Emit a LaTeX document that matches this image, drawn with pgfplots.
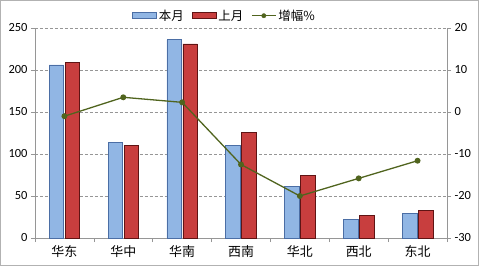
\documentclass[border=0pt]{standalone}
\usepackage{pgfplots}
\pgfplotsset{compat=1.18}
\usepackage{fontspec}
\setmainfont{Carlito}
\newfontfamily\cjk{Noto Sans CJK SC}
\definecolor{bluebar}{RGB}{145,182,228}
\definecolor{bluedark}{RGB}{75,110,165}
\definecolor{redbar}{RGB}{200,62,62}
\definecolor{reddark}{RGB}{95,20,20}
\definecolor{linegreen}{RGB}{80,100,30}
\definecolor{gridgray}{RGB}{150,150,150}
\begin{document}
\begin{tikzpicture}
\pgfplotsset{
  every axis/.append style={font=\fontsize{12.5}{14}\selectfont},
}
\begin{axis}[
  name=ax,
  scale only axis, width=412bp, height=210bp,
  xmin=-0.5, xmax=6.5, ymin=0, ymax=250,
  ytick={0,50,100,150,200,250},
  xtick={0,1,2,3,4,5,6},
  xticklabels={{\cjk 华东},{\cjk 华中},{\cjk 华南},{\cjk 西南},{\cjk 华北},{\cjk 西北},{\cjk 东北}},
  x tick label style={font=\fontsize{13}{15}\selectfont},
  minor xtick={-0.5,0.5,1.5,2.5,3.5,4.5,5.5,6.5},
  major x tick style={draw=none},
  minor x tick style={gridgray, line width=0.6pt},
  tick align=outside,
  minor tick length=4bp,
  ymajorgrids, grid style={gridgray, densely dashed, line width=0.4pt},
  axis line style={gridgray},
  axis x line*=bottom, axis y line*=left,
  major y tick style={gridgray}, major tick length=4bp,
  /pgf/number format/assume math mode=true,
  ybar=1.5bp, bar width=14.5bp,
  legend style={draw=none, fill=none, at={(0.46,1.01)}, anchor=south, legend columns=3,
    /tikz/every even column/.append style={column sep=6bp}, font=\cjk\fontsize{12.5}{14}\selectfont},
  clip=false,
]
\addplot[draw=bluedark, line width=0.6pt, fill=bluebar,
  legend image code/.code={\draw[draw=bluedark, fill=bluebar] (0bp,-3bp) rectangle (24bp,3bp);}]
  coordinates {(0,206) (1,114) (2,236) (3,110) (4,61) (5,22) (6,29)};
\addlegendentry{本月}
\addplot[draw=reddark, line width=0.6pt, fill=redbar,
  legend image code/.code={\draw[draw=reddark, fill=redbar] (0bp,-3bp) rectangle (24bp,3bp);}]
  coordinates {(0,209) (1,110) (2,231) (3,126) (4,75) (5,27) (6,33)};
\addlegendentry{上月}
\addlegendimage{legend image code/.code={\draw[linegreen, line width=1.2pt] (0bp,0bp) -- (24bp,0bp); \fill[linegreen] (12bp,0bp) circle (2.2pt);}}
\addlegendentry{增幅\%}
\end{axis}
\begin{axis}[
  scale only axis, width=412bp, height=210bp,
  xmin=-0.5, xmax=6.5, ymin=-30, ymax=20,
  ytick={-30,-20,-10,0,10,20},
  axis x line=none, axis y line*=right,
  axis line style={gridgray},
  major y tick style={gridgray}, major tick length=4bp, tick align=outside,
  /pgf/number format/assume math mode=true,
  clip=false,
]
\addplot[linegreen, line width=1.3pt, mark=*, mark size=2.3pt]
  coordinates {(0,-1) (1,3.5) (2,2.3) (3,-12.5) (4,-20) (5,-15.8) (6,-11.6)};
\end{axis}
\draw[gray!60, line width=0.6pt] ([xshift=-34.5bp,yshift=-27.5bp]ax.south west) rectangle ([xshift=31.5bp,yshift=27.5bp]ax.north east);
\path[use as bounding box] ([xshift=-35bp,yshift=-28bp]ax.south west) rectangle ([xshift=32bp,yshift=28bp]ax.north east);
\end{tikzpicture}
\end{document}
